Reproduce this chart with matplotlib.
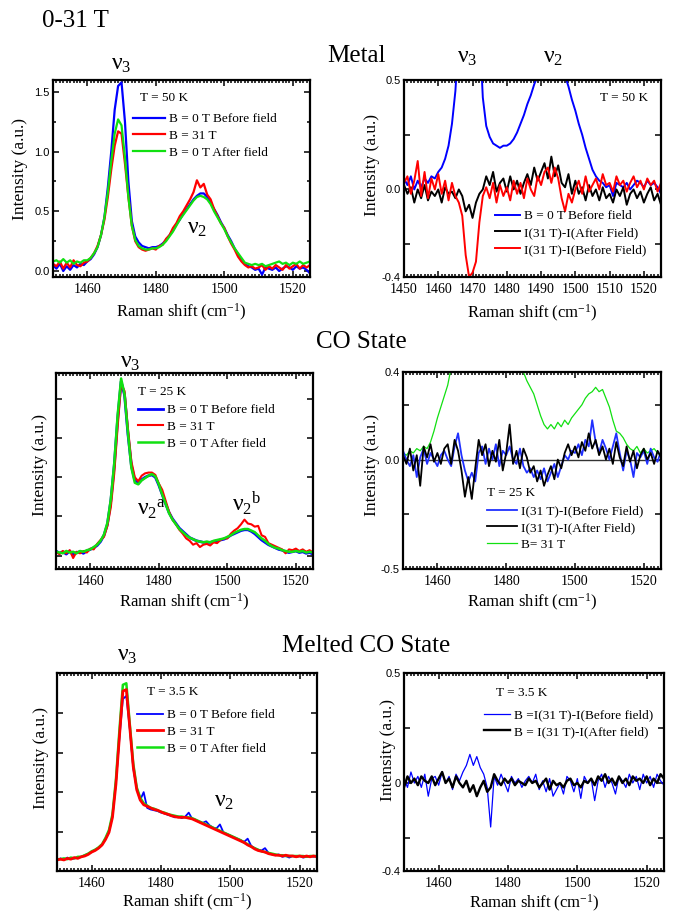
import matplotlib
matplotlib.use('Agg')
import matplotlib.pyplot as plt
from matplotlib.ticker import MultipleLocator

plt.rcParams['font.family'] = ['Liberation Serif', 'DejaVu Serif']
plt.rcParams['mathtext.fontset'] = 'custom'
plt.rcParams['mathtext.rm'] = 'Liberation Serif'
plt.rcParams['mathtext.it'] = 'Liberation Serif:italic'
plt.rcParams['mathtext.bf'] = 'Liberation Serif:bold'

# Raman shift grid (cm-1), 1 cm-1 steps
shift = list(range(1450, 1526))

# ---- Metal, T = 50 K ----
p1_before = [0.05, 0.02, 0.06, 0.00, 0.04, 0.01, 0.05, 0.03, 0.06, 0.05,
             0.08, 0.10, 0.14, 0.20, 0.30, 0.45, 0.70, 1.00, 1.35, 1.55,
             1.58, 1.25, 0.75, 0.42, 0.29, 0.24, 0.21, 0.20, 0.19, 0.20,
             0.20, 0.21, 0.23, 0.26, 0.30, 0.34, 0.39, 0.43, 0.48, 0.52,
             0.56, 0.60, 0.63, 0.65, 0.65, 0.62, 0.57, 0.52, 0.47, 0.41,
             0.36, 0.30, 0.25, 0.19, 0.14, 0.09, 0.06, 0.04, 0.03, 0.01,
             0.02, -0.03, 0.03, 0.02, 0.01, 0.03, 0.00, 0.02, 0.04, 0.03,
             0.01, 0.04, 0.02, 0.03, 0.01, -0.02]
p1_31T = [0.06, 0.04, 0.08, 0.02, 0.07, 0.03, 0.09, 0.05, 0.04, 0.07,
          0.08, 0.11, 0.15, 0.21, 0.30, 0.43, 0.62, 0.85, 1.05, 1.17,
          1.15, 0.90, 0.62, 0.38, 0.25, 0.20, 0.18, 0.17, 0.18, 0.19,
          0.18, 0.21, 0.22, 0.27, 0.30, 0.36, 0.40, 0.46, 0.50, 0.55,
          0.60, 0.66, 0.76, 0.70, 0.73, 0.64, 0.60, 0.52, 0.46, 0.40,
          0.36, 0.29, 0.23, 0.18, 0.12, 0.08, 0.05, 0.03, 0.04, 0.02,
          0.03, 0.05, 0.01, 0.04, 0.02, 0.05, 0.03, 0.01, 0.05, 0.02,
          0.04, 0.06, 0.02, 0.05, 0.03, 0.05]
p1_after = [0.08, 0.09, 0.07, 0.10, 0.07, 0.09, 0.06, 0.08, 0.07, 0.09,
            0.09, 0.11, 0.15, 0.20, 0.30, 0.45, 0.66, 0.92, 1.15, 1.27,
            1.22, 0.95, 0.62, 0.38, 0.26, 0.21, 0.19, 0.18, 0.18, 0.19,
            0.19, 0.20, 0.22, 0.25, 0.29, 0.33, 0.38, 0.43, 0.47, 0.51,
            0.55, 0.59, 0.62, 0.63, 0.62, 0.60, 0.56, 0.50, 0.45, 0.40,
            0.35, 0.29, 0.24, 0.19, 0.15, 0.11, 0.07, 0.06, 0.05, 0.06,
            0.05, 0.06, 0.04, 0.05, 0.06, 0.07, 0.08, 0.06, 0.07, 0.05,
            0.07, 0.06, 0.08, 0.06, 0.07, 0.08]
p2_after_diff = [0.02, -0.02, 0.01, -0.06, 0.00, -0.04, 0.02, -0.05, -0.01, -0.03,
                 0.00, -0.06, 0.01, -0.02, -0.01, -0.04, 0.00, -0.03, -0.10, -0.07,
                 -0.13, -0.06, -0.02, 0.00, 0.06, 0.02, 0.08, -0.01, 0.03, 0.05,
                 -0.01, 0.06, 0.00, 0.04, -0.02, 0.03, 0.07, 0.02, 0.10, 0.04,
                 0.08, 0.12, 0.05, 0.15, 0.06, 0.11, 0.03, 0.01, 0.07, -0.02,
                 0.04, -0.02, 0.01, -0.05, 0.02, -0.03, 0.00, -0.05, 0.01, -0.04,
                 -0.02, -0.06, 0.00, -0.03, 0.01, -0.07, -0.02, 0.00, -0.04, -0.01,
                 -0.06, -0.02, 0.01, -0.05, -0.02, -0.07]
p2_before_diff = [0.03, 0.06, -0.02, 0.04, 0.13, -0.03, 0.08, -0.04, 0.05, 0.00,
                  0.07, -0.02, 0.04, -0.05, 0.03, -0.03, -0.06, -0.12, -0.30, -0.40,
                  -0.38, -0.33, -0.15, -0.03, 0.01, -0.04, 0.03, -0.06, 0.02, -0.03,
                  0.01, -0.05, 0.04, -0.02, 0.03, -0.04, 0.05, 0.00, -0.03, 0.06,
                  0.02, 0.08, 0.10, 0.03, 0.10, 0.05, -0.04, -0.10, -0.02, -0.06,
                  0.00, 0.04, -0.02, 0.06, -0.01, 0.02, 0.05, 0.00, 0.07, 0.02,
                  0.03, -0.01, 0.06, 0.02, 0.04, -0.01, 0.03, 0.06, 0.01, 0.04,
                  0.00, 0.05, 0.02, 0.04, -0.01, 0.03]

# ---- CO state, T = 25 K ----
p3_before = [0.06, 0.03, 0.05, 0.02, 0.06, 0.01, 0.04, 0.05, 0.03, 0.06,
             0.08, 0.10, 0.13, 0.18, 0.26, 0.40, 0.70, 1.15, 1.75, 2.22,
             2.05, 1.55, 1.15, 0.96, 0.92, 0.97, 1.00, 1.02, 1.03, 1.00,
             0.90, 0.78, 0.66, 0.55, 0.47, 0.41, 0.35, 0.31, 0.27, 0.23,
             0.21, 0.19, 0.18, 0.17, 0.17, 0.17, 0.18, 0.19, 0.20, 0.21,
             0.23, 0.26, 0.28, 0.30, 0.32, 0.33, 0.33, 0.31, 0.28, 0.24,
             0.20, 0.17, 0.14, 0.12, 0.10, 0.08, 0.07, 0.05, 0.04, 0.05,
             0.06, 0.04, 0.05, 0.03, 0.04, 0.02]
p3_31T = [0.05, 0.02, 0.06, 0.03, 0.07, -0.03, 0.05, 0.03, 0.06, 0.04,
          0.09, 0.08, 0.15, 0.20, 0.24, 0.38, 0.62, 1.05, 1.65, 2.19,
          2.10, 1.62, 1.20, 1.00, 0.95, 1.02, 1.05, 1.06, 1.06, 1.03,
          0.92, 0.84, 0.70, 0.56, 0.46, 0.40, 0.33, 0.28, 0.22, 0.19,
          0.14, 0.16, 0.11, 0.14, 0.15, 0.13, 0.17, 0.16, 0.20, 0.22,
          0.22, 0.28, 0.32, 0.35, 0.40, 0.46, 0.41, 0.40, 0.37, 0.38,
          0.26, 0.24, 0.16, 0.14, 0.12, 0.10, 0.08, 0.03, 0.08, 0.07,
          0.09, 0.06, 0.08, 0.05, 0.07, 0.04]
p3_after = [0.05, 0.04, 0.03, 0.06, 0.04, 0.05, 0.03, 0.06, 0.05, 0.07,
            0.08, 0.11, 0.14, 0.19, 0.27, 0.42, 0.72, 1.18, 1.80, 2.26,
            2.06, 1.56, 1.12, 0.93, 0.91, 0.96, 0.99, 1.02, 1.04, 1.01,
            0.91, 0.78, 0.66, 0.54, 0.46, 0.40, 0.34, 0.30, 0.26, 0.23,
            0.21, 0.19, 0.18, 0.17, 0.18, 0.17, 0.19, 0.20, 0.21, 0.22,
            0.24, 0.26, 0.29, 0.31, 0.33, 0.34, 0.34, 0.32, 0.30, 0.26,
            0.22, 0.19, 0.15, 0.12, 0.10, 0.09, 0.07, 0.06, 0.05, 0.05,
            0.06, 0.05, 0.06, 0.04, 0.05, 0.04]
p4_31T = [0.03, 0.02, 0.04, 0.03, 0.05, 0.04, 0.06, 0.05, 0.08, 0.13,
          0.19, 0.24, 0.29, 0.34, 0.42, 0.60, 0.90, 1.30, 1.80, 2.10,
          2.00, 1.60, 1.20, 0.95, 0.85, 0.80, 0.80, 0.82, 0.83, 0.82,
          0.75, 0.65, 0.57, 0.50, 0.45, 0.40, 0.36, 0.33, 0.30, 0.25,
          0.20, 0.16, 0.14, 0.16, 0.14, 0.17, 0.15, 0.18, 0.16, 0.19,
          0.21, 0.23, 0.25, 0.28, 0.30, 0.31, 0.33, 0.31, 0.32, 0.28,
          0.24, 0.18, 0.13, 0.12, 0.10, 0.07, 0.05, 0.04, 0.06, 0.03,
          0.05, 0.03, 0.04, 0.05, 0.03, 0.02]
p4_before_diff = [0.04, 0.00, -0.03, 0.02, -0.08, 0.01, 0.05, -0.02, 0.03, 0.00,
                  -0.03, 0.02, 0.04, 0.00, -0.03, 0.06, 0.12, 0.02, -0.05, -0.10,
                  -0.06, -0.10, 0.03, 0.06, -0.02, 0.05, 0.00, 0.07, -0.03, 0.04,
                  0.02, 0.06, 0.00, -0.02, 0.05, -0.03, -0.06, -0.04, -0.08, -0.05,
                  -0.09, -0.04, -0.10, -0.06, -0.02, -0.08, -0.03, 0.02, 0.00, 0.04,
                  0.03, 0.07, 0.02, 0.09, 0.06, 0.18, 0.08, 0.03, 0.09, 0.05,
                  0.00, 0.06, 0.12, 0.03, -0.05, 0.04, 0.00, -0.08, 0.03, 0.01,
                  0.04, -0.02, 0.05, 0.01, -0.01, 0.04]
p4_after_diff = [0.02, -0.02, 0.05, -0.05, 0.02, -0.12, 0.06, 0.01, 0.07, -0.01,
                 0.03, -0.02, 0.05, 0.07, -0.02, 0.09, 0.04, -0.05, -0.17, -0.08,
                 -0.18, -0.04, 0.09, 0.02, 0.07, -0.03, 0.04, -0.01, 0.09, -0.05,
                 0.03, 0.16, -0.02, 0.04, -0.04, 0.05, 0.01, -0.06, -0.03, -0.10,
                 -0.05, -0.12, -0.07, -0.03, -0.09, 0.00, -0.04, 0.03, 0.07, 0.02,
                 0.06, 0.01, 0.08, 0.04, 0.12, 0.05, 0.09, 0.02, 0.06, 0.00,
                 0.05, -0.02, 0.08, 0.01, -0.03, 0.06, -0.01, 0.04, -0.04, 0.02,
                 0.05, 0.00, 0.03, -0.02, 0.04, 0.01]

# ---- Melted CO state, T = 3.5 K ----
p5_before = [0.13, 0.16, 0.14, 0.17, 0.15, 0.16, 0.17, 0.18, 0.20, 0.22,
             0.24, 0.27, 0.29, 0.33, 0.41, 0.50, 0.70, 1.12, 1.68, 2.18,
             2.22, 1.80, 1.30, 1.05, 0.90, 1.00, 0.80, 0.78, 0.77, 0.76,
             0.74, 0.73, 0.71, 0.70, 0.68, 0.69, 0.67, 0.69, 0.74, 0.66,
             0.65, 0.62, 0.61, 0.63, 0.58, 0.55, 0.54, 0.59, 0.49, 0.47,
             0.45, 0.43, 0.41, 0.39, 0.37, 0.41, 0.32, 0.29, 0.27, 0.26,
             0.29, 0.23, 0.21, 0.20, 0.21, 0.18, 0.19, 0.17, 0.19, 0.18,
             0.19, 0.17, 0.18, 0.19, 0.18, 0.19]
p5_31T = [0.14, 0.15, 0.14, 0.16, 0.15, 0.17, 0.16, 0.18, 0.19, 0.21,
          0.24, 0.26, 0.29, 0.33, 0.40, 0.49, 0.68, 1.10, 1.70, 2.28,
          2.30, 1.82, 1.32, 1.03, 0.90, 0.84, 0.82, 0.80, 0.78, 0.77,
          0.75, 0.73, 0.72, 0.70, 0.69, 0.68, 0.68, 0.68, 0.67, 0.66,
          0.64, 0.62, 0.60, 0.58, 0.56, 0.54, 0.52, 0.50, 0.48, 0.46,
          0.44, 0.42, 0.40, 0.38, 0.36, 0.33, 0.31, 0.28, 0.26, 0.25,
          0.24, 0.22, 0.21, 0.20, 0.20, 0.19, 0.20, 0.19, 0.19, 0.18,
          0.19, 0.18, 0.19, 0.18, 0.19, 0.18]
p5_after = [0.15, 0.15, 0.16, 0.15, 0.17, 0.16, 0.18, 0.18, 0.20, 0.22,
            0.25, 0.27, 0.30, 0.34, 0.42, 0.52, 0.72, 1.16, 1.78, 2.36,
            2.38, 1.86, 1.36, 1.06, 0.93, 0.86, 0.83, 0.80, 0.79, 0.77,
            0.75, 0.74, 0.72, 0.71, 0.70, 0.69, 0.69, 0.68, 0.68, 0.67,
            0.65, 0.63, 0.61, 0.59, 0.57, 0.55, 0.53, 0.51, 0.49, 0.47,
            0.45, 0.43, 0.41, 0.39, 0.36, 0.34, 0.31, 0.29, 0.27, 0.25,
            0.24, 0.23, 0.22, 0.21, 0.20, 0.20, 0.19, 0.19, 0.19, 0.19,
            0.19, 0.19, 0.18, 0.19, 0.19, 0.19]
p6_before_diff = [0.02, -0.02, 0.05, 0.00, 0.03, -0.02, 0.04, -0.06, 0.02, 0.03,
                  -0.01, 0.05, 0.00, 0.03, -0.03, 0.04, 0.01, 0.05, 0.08, 0.13,
                  0.08, 0.12, 0.07, 0.04, -0.02, -0.20, 0.03, -0.01, 0.04, 0.00,
                  -0.04, 0.03, 0.00, 0.02, -0.02, 0.01, 0.03, 0.00, 0.04, -0.03,
                  0.01, -0.04, 0.02, -0.06, -0.03, 0.00, -0.05, 0.03, 0.01, -0.04,
                  0.02, -0.07, 0.03, 0.00, 0.02, -0.08, 0.01, 0.04, -0.02, 0.03,
                  0.00, -0.05, 0.03, 0.01, -0.02, 0.04, 0.00, 0.03, -0.03, 0.04,
                  0.00, 0.03, -0.02, 0.04, 0.01, -0.01]
p6_after_diff = [-0.02, 0.03, 0.00, 0.02, -0.01, 0.03, 0.01, 0.00, 0.03, -0.01,
                 0.02, 0.05, 0.00, 0.02, -0.02, 0.03, 0.00, -0.02, 0.01, -0.04,
                 -0.01, -0.06, -0.02, 0.01, -0.04, -0.02, 0.04, 0.01, -0.01, 0.02,
                 0.00, 0.02, -0.01, 0.01, 0.00, -0.01, 0.02, 0.00, 0.01, -0.02,
                 0.00, 0.02, -0.03, 0.01, -0.01, 0.00, -0.02, 0.01, 0.02, -0.01,
                 0.00, -0.02, 0.01, 0.00, 0.02, -0.01, 0.03, 0.01, 0.04, 0.00,
                 0.02, -0.01, 0.03, 0.00, 0.02, -0.01, 0.03, 0.01, 0.02, 0.00,
                 0.03, -0.01, 0.02, 0.00, 0.04, 0.02]

BLUE, RED, GREEN = '#0000ff', '#ff0000', '#11e011'

W, H = 678, 916
fig = plt.figure(figsize=(W / 100, H / 100), dpi=100)


def box(l, r, t, b):
    return [l / W, 1 - b / H, (r - l) / W, (b - t) / H]


def px(x, y):
    return x / W, 1 - y / H


def style(ax, ylim, yticks, ylabels, xmaj, xlab_y, ylab_x, ylab_y):
    ax.set_xlim(1450, 1525)
    ax.set_ylim(*ylim)
    ax.xaxis.set_major_locator(MultipleLocator(xmaj))
    ax.xaxis.set_minor_locator(MultipleLocator(1))
    ax.set_yticks(yticks)
    ax.set_yticklabels(ylabels, family=['Liberation Sans'], fontsize=8)
    ax.tick_params(which='both', direction='in', top=True, right=True, width=1.1)
    ax.tick_params(which='major', length=4)
    ax.tick_params(which='minor', length=2)
    ax.tick_params(axis='x', labelsize=10, pad=4)
    ax.tick_params(axis='y', pad=2.5)
    for s in ax.spines.values():
        s.set_linewidth(1.6)
    ax.set_xlabel('Raman shift (cm$^{-1}$)', fontsize=12)
    ax.set_ylabel('Intensity (a.u.)', fontsize=12.5)
    ax.xaxis.set_label_coords(0.5, xlab_y)
    ax.yaxis.set_label_coords(ylab_x, ylab_y)


def legend(ax, handles, labels, x0, y0, hl):
    ax.legend(handles, labels, loc='upper left', bbox_to_anchor=px(x0, y0 - 8),
              bbox_transform=fig.transFigure, frameon=False, fontsize=9.5,
              handlelength=hl, handletextpad=0.3, labelspacing=0.35,
              borderpad=0, borderaxespad=0)


def nu(x, y, s):
    fig.text(*px(x, y), s, fontsize=17, ha='center', va='center')


# headings
fig.text(*px(42, 27), '0-31 T', fontsize=18, va='baseline')
fig.text(*px(356, 62), 'Metal', fontsize=18, ha='center', va='baseline')
fig.text(*px(361, 348), 'CO State', fontsize=18, ha='center', va='baseline')
fig.text(*px(366, 652), 'Melted CO State', fontsize=18, ha='center', va='baseline')

# ---- panel 1 ----
ax1 = fig.add_axes(box(53, 310, 80, 277))
l1, = ax1.plot(shift, p1_before, color=BLUE, lw=1.6)
l2, = ax1.plot(shift, p1_31T, color=RED, lw=1.6)
l3, = ax1.plot(shift, p1_after, color=GREEN, lw=1.6)
style(ax1, (-0.05, 1.6), [0, 0.5, 1.0, 1.5], ['0.0', '0.5', '1.0', '1.5'],
      20, -0.125, -0.097, 0.55)
ax1.yaxis.set_minor_locator(MultipleLocator(0.25))
legend(ax1, [l1, l2, l3], ['B = 0 T Before field', 'B = 31 T', 'B = 0 T After field'],
       133, 121, 2.4)
fig.text(*px(140, 98), 'T = 50 K', fontsize=9.5, va='center')
nu(121, 64, 'ν$_3$')
nu(197, 228, 'ν$_2$')

# ---- panel 2 ----
ax2 = fig.add_axes(box(404, 661, 80, 277))
l1, = ax2.plot(shift, p1_before, color=BLUE, lw=1.4)
l2, = ax2.plot(shift, p2_after_diff, color='black', lw=1.4)
l3, = ax2.plot(shift, p2_before_diff, color=RED, lw=1.4)
style(ax2, (-0.4, 0.5), [-0.4, -0.25, 0, 0.25, 0.5], ['-0.4', '', '0.0', '', '0.5'],
      10, -0.13, -0.093, 0.57)
legend(ax2, [l1, l2, l3], ['B = 0 T Before field', 'I(31 T)-I(After Field)',
                           'I(31 T)-I(Before Field)'], 495, 218, 1.9)
fig.text(*px(600, 98), 'T = 50 K', fontsize=9.5, va='center')
nu(467, 57, 'ν$_3$')
nu(553, 57, 'ν$_2$')

# ---- panel 3 ----
ax3 = fig.add_axes(box(56, 313, 373, 569))
l1, = ax3.plot(shift, p3_before, color=BLUE, lw=2.0)
l2, = ax3.plot(shift, p3_31T, color=RED, lw=1.5)
l3, = ax3.plot(shift, p3_after, color=GREEN, lw=1.8)
style(ax3, (-0.17, 2.33), [0, 0.5, 1.0, 1.5, 2.0], [''] * 5,
      20, -0.117, -0.031, 0.53)
legend(ax3, [l1, l2, l3], ['B = 0 T Before field', 'B = 31 T', 'B = 0 T After field'],
       138, 412, 1.9)
fig.text(*px(138, 392), 'T = 25 K', fontsize=9.5, va='center')
nu(130, 362, 'ν$_3$')
nu(152, 509, r'ν$_2$$^\mathrm{a}$')
nu(247, 503, r'ν$_2$$^\mathrm{b}$')

# ---- panel 4 ----
ax4 = fig.add_axes(box(403, 661, 372, 569))
ax4.axhline(0, color='#333333', lw=1.0)
l3, = ax4.plot(shift, p4_31T, color=GREEN, lw=0.9)
l1, = ax4.plot(shift, p4_before_diff, color='#2030ff', lw=1.3)
l2, = ax4.plot(shift, p4_after_diff, color='black', lw=1.3)
style(ax4, (-0.5, 0.4), [-0.5, -0.25, 0, 0.25, 0.4], ['-0.5', '', '0.0', '', '0.4'],
      20, -0.117, -0.089, 0.53)
legend(ax4, [l1, l2, l3], ['I(31 T)-I(Before Field)', 'I(31 T)-I(After Field)', 'B= 31 T'],
       487, 513, 2.3)
fig.text(*px(487, 493), 'T = 25 K', fontsize=9.5, va='center')

# ---- panel 5 ----
ax5 = fig.add_axes(box(57, 317, 673, 871))
l1, = ax5.plot(shift, p5_before, color=BLUE, lw=1.3)
l3, = ax5.plot(shift, p5_after, color=GREEN, lw=1.8)
l2, = ax5.plot(shift, p5_31T, color=RED, lw=2.0)
style(ax5, (0, 2.51), [0.5, 1.0, 1.5, 2.0], [''] * 4,
      20, -0.106, -0.031, 0.57)
legend(ax5, [l1, l2, l3], ['B = 0 T Before field', 'B = 31 T', 'B = 0 T After field'],
       137, 717, 2.0)
fig.text(*px(147, 692), 'T = 3.5 K', fontsize=9.5, va='center')
nu(127, 656, 'ν$_3$')
nu(224, 801, 'ν$_2$')

# ---- panel 6 ----
ax6 = fig.add_axes(box(404, 664, 673, 871))
l1, = ax6.plot(shift, p6_before_diff, color=BLUE, lw=0.9)
l2, = ax6.plot(shift, p6_after_diff, color='black', lw=1.7)
style(ax6, (-0.4, 0.5), [-0.4, -0.25, 0, 0.25, 0.5], ['-0.4', '', '0', '', '0.5'],
      20, -0.111, -0.031, 0.61)
legend(ax6, [l1, l2], ['B =I(31 T)-I(Before field)', 'B = I(31 T)-I(After field)'],
       484, 717, 2.0)
fig.text(*px(496, 693), 'T = 3.5 K', fontsize=9.5, va='center')

fig.savefig('out.png', dpi=100)
